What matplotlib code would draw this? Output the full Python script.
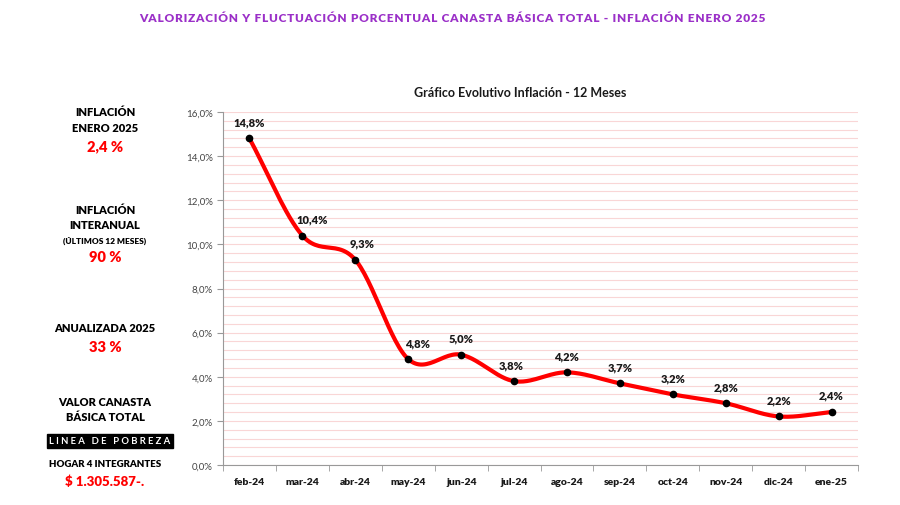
import numpy as np
import matplotlib.pyplot as plt
from matplotlib.ticker import MultipleLocator, FuncFormatter

meses = ["feb-24", "mar-24", "abr-24", "may-24", "jun-24", "jul-24",
         "ago-24", "sep-24", "oct-24", "nov-24", "dic-24", "ene-25"]
inflacion = [14.8, 10.4, 9.3, 4.8, 5.0, 3.8, 4.2, 3.7, 3.2, 2.8, 2.2, 2.4]

plt.rcParams['font.family'] = ['Lato', 'DejaVu Sans']


def suavizar(x, y, n=30):
    # curva tipo Catmull-Rom entre los puntos
    x = np.asarray(x, float)
    y = np.asarray(y, float)
    px = np.concatenate([[2 * x[0] - x[1]], x, [2 * x[-1] - x[-2]]])
    py = np.concatenate([[2 * y[0] - y[1]], y, [2 * y[-1] - y[-2]]])
    xs, ys = [], []
    t = np.linspace(0, 1, n)
    for i in range(1, len(px) - 2):
        for p, out in ((px, xs), (py, ys)):
            p0, p1, p2, p3 = p[i - 1], p[i], p[i + 1], p[i + 2]
            out.extend(0.5 * (2 * p1 + (-p0 + p2) * t
                              + (2 * p0 - 5 * p1 + 4 * p2 - p3) * t ** 2
                              + (-p0 + 3 * p1 - 3 * p2 + p3) * t ** 3))
    return np.array(xs), np.array(ys)


fig = plt.figure(figsize=(9, 5.06), dpi=100)
ax = fig.add_axes([223 / 900, 1 - 466 / 506, 635 / 900, 353 / 506])

x = np.arange(len(meses))
sx, sy = suavizar(x, inflacion)
ax.plot(sx, sy, color='#ff0000', lw=3, zorder=3, solid_capstyle='round')
ax.plot(x, inflacion, 'o', color='black', ms=4.5, zorder=4)
# pequeño corrimiento horizontal de las etiquetas (como en Excel)
dx = [0, 7, 5, 7, 0, -2, 0, 0, 0, 0, 0, 0]
for xi, v, d in zip(x, inflacion, dx):
    ax.annotate(f"{v:.1f}%".replace('.', ','), (xi, v), xytext=(d, 8),
                textcoords='offset points', ha='center', va='bottom',
                fontsize=8, fontweight='heavy', color='#1a1a1a')

ax.set_xlim(-0.5, len(meses) - 0.5)
ax.set_ylim(0, 16)
ax.yaxis.set_major_locator(MultipleLocator(2))
ax.yaxis.set_minor_locator(MultipleLocator(0.4))
ax.yaxis.set_major_formatter(FuncFormatter(lambda v, p: f"{v:.1f}%".replace('.', ',')))
ax.grid(True, which='both', axis='y', color='#f9d6d6', lw=0.8)
ax.set_axisbelow(True)

ax.set_xticks(x)
ax.set_xticklabels(meses, fontsize=7.5, fontweight='heavy', color='#1a1a1a')
ax.set_xticks(np.arange(-0.5, len(meses)), minor=True)
ax.tick_params(axis='x', which='major', length=0, pad=9)
ax.tick_params(axis='x', which='minor', length=4, color='#999999')
ax.tick_params(axis='y', which='major', labelsize=7, labelcolor='#444444',
               length=4, color='#999999')
ax.tick_params(axis='y', which='minor', length=0)
for s in ['top', 'right']:
    ax.spines[s].set_visible(False)
for s in ['left', 'bottom']:
    ax.spines[s].set_color('#999999')

fig.text(520 / 900, 1 - 93 / 506, "Gráfico Evolutivo Inflación - 12 Meses",
         ha='center', va='center', fontsize=9, fontweight='bold', color='#1a1a1a')

titulo = "VALORIZACIÓN Y FLUCTUACIÓN PORCENTUAL CANASTA BÁSICA TOTAL - INFLACIÓN ENERO 2025"
fig.text(452 / 900, 1 - 18 / 506, "\u200a".join(titulo),
         ha='center', va='center', fontsize=8.6, fontweight='heavy', color='#9b30c8',
         family=['Lato', 'DejaVu Sans'])

cx = 105 / 900
textos = [
    ("INFLACIÓN", 112, 8, 'black'),
    ("ENERO 2025", 128, 8, 'black'),
    ("2,4 %", 147, 10.5, '#ff0000'),
    ("INFLACIÓN", 210, 8, 'black'),
    ("INTERANUAL", 226, 8, 'black'),
    ("(ÚLTIMOS 12 MESES)", 241, 6, 'black'),
    ("90 %", 258, 10.5, '#ff0000'),
    ("ANUALIZADA 2025", 329, 8, 'black'),
    ("33 %", 348, 10.5, '#ff0000'),
    ("VALOR CANASTA", 403, 8, 'black'),
    ("BÁSICA TOTAL", 418, 8, 'black'),
    ("HOGAR 4 INTEGRANTES", 465, 7, 'black'),
    ("$ 1.305.587-.", 482, 9.5, '#ff0000'),
]
for txt, yp, fs, col in textos:
    fig.text(cx, 1 - yp / 506, txt, ha='center', va='center',
             fontsize=fs, fontweight='heavy', color=col)

fig.text(110 / 900, 1 - 442 / 506, "L I N E A   D E   P O B R E Z A", ha='center', va='center',
         fontsize=6.8, fontweight='bold', color='white',
         bbox=dict(boxstyle='square,pad=0.25', fc='black', ec='black'))

fig.savefig("out.png", dpi=100)
